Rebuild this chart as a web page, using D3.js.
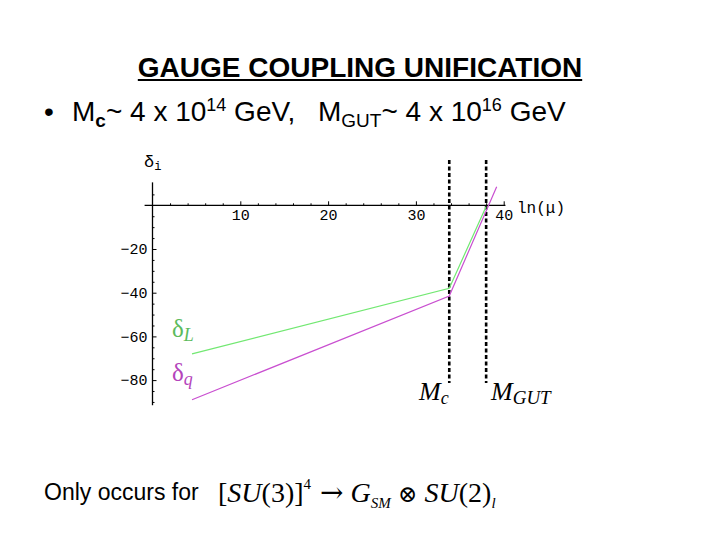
<!DOCTYPE html>
<html>
<head>
<meta charset="utf-8">
<script src="https://cdn.jsdelivr.net/npm/d3@7"></script>
<style>
  body { margin: 0; background: #fff; }
  svg text { fill: #000; white-space: pre; }
</style>
</head>
<body>
<div class="chart"></div>
<script>
// values
var xTicks = [10, 20, 30, 40];
var xMinor = [2, 4, 6, 8, 12, 14, 16, 18, 22, 24, 26, 28, 32, 34, 36, 38];
var yTicks = [-20, -40, -60, -80];
var yMinor = [5, -5, -10, -15, -25, -30, -35, -45, -50, -55, -65, -70, -75, -85, -90];
var lnMuL = [4.5, 33.8, 38.0];
var deltaL = [-68, -38, -0.5];
var lnMuQ = [4.5, 33.8, 39.2];
var deltaQ = [-89, -41.5, 8.5];
var thresholds = [33.8, 38.0];

var svgWidth = 720, svgHeight = 540;
var svg = d3.select(".chart").append("svg")
    .attr("width", svgWidth)
    .attr("height", svgHeight);

var sans = "Liberation Sans, Arial, sans-serif";
var serif = "Liberation Serif, Times New Roman, serif";
var monoFont = "Liberation Mono, Courier New, monospace";

// title
var title = svg.append("text")
    .attr("x", 360).attr("y", 77)
    .attr("text-anchor", "middle")
    .attr("font-family", sans)
    .attr("font-weight", "bold")
    .attr("font-size", 28)
    .text("GAUGE COUPLING UNIFICATION");
var tb = title.node().getBBox();
svg.append("line")
    .attr("x1", tb.x).attr("x2", tb.x + tb.width)
    .attr("y1", 80).attr("y2", 80)
    .attr("stroke", "#000").attr("stroke-width", 2);

// bullet line
svg.append("text")
    .attr("x", 44).attr("y", 121)
    .attr("font-family", sans).attr("font-size", 28)
    .text("\u2022");
var mc = svg.append("text")
    .attr("x", 72).attr("y", 121)
    .attr("font-family", sans).attr("font-size", 28);
mc.append("tspan").text("M");
mc.append("tspan").attr("font-size", 19).attr("font-weight", "bold").attr("dy", 6).text("c");
mc.append("tspan").attr("dy", -6).text("~ 4 x 10");
mc.append("tspan").attr("font-size", 18).attr("dy", -10).text("14");
mc.append("tspan").attr("dy", 10).text(" GeV,");
var mg = svg.append("text")
    .attr("x", 318).attr("y", 121)
    .attr("font-family", sans).attr("font-size", 28);
mg.append("tspan").text("M");
mg.append("tspan").attr("font-size", 19).attr("dy", 6).text("GUT");
mg.append("tspan").attr("dy", -6).text("~ 4 x 10");
mg.append("tspan").attr("font-size", 18).attr("dy", -10).text("16");
mg.append("tspan").attr("dy", 10).text(" GeV");

// chart scales
var x = d3.scaleLinear().domain([0, 40]).range([152.5, 503.7]);
var y = d3.scaleLinear().domain([0, -80]).range([205.3, 380.1]);

var chart = svg.append("g");

// x axis
chart.append("line")
    .attr("x1", x(-0.9)).attr("x2", x(40.2))
    .attr("y1", y(0)).attr("y2", y(0))
    .attr("stroke", "#000").attr("stroke-width", 1.3);
var xAxis = chart.append("g")
    .attr("transform", "translate(0," + y(0) + ")")
    .call(d3.axisBottom(x).tickValues(xTicks).tickSizeInner(-4).tickSizeOuter(0).tickPadding(4));
var xMin = chart.append("g")
    .attr("transform", "translate(0," + y(0) + ")")
    .call(d3.axisBottom(x).tickValues(xMinor).tickSizeInner(-2).tickSizeOuter(0).tickFormat(""));

// y axis
chart.append("line")
    .attr("x1", x(0)).attr("x2", x(0))
    .attr("y1", y(10.5)).attr("y2", y(-91.5))
    .attr("stroke", "#000").attr("stroke-width", 1.3);
var yAxis = chart.append("g")
    .attr("transform", "translate(" + x(0) + ",0)")
    .call(d3.axisLeft(y).tickValues(yTicks).tickSizeInner(-4).tickSizeOuter(0).tickPadding(5)
        .tickFormat(function(d) { return "\u2212" + Math.abs(d); }));
var yMin = chart.append("g")
    .attr("transform", "translate(" + x(0) + ",0)")
    .call(d3.axisLeft(y).tickValues(yMinor).tickSizeInner(-2).tickSizeOuter(0).tickFormat(""));

[xAxis, xMin, yAxis, yMin].forEach(function(a) {
    a.select(".domain").remove();
    a.selectAll("line").attr("stroke", "#000").attr("stroke-width", 1);
    a.selectAll("text").attr("font-family", monoFont).attr("font-size", 15).attr("fill", "#000");
});

// axis names
chart.append("text")
    .attr("x", 144).attr("y", 167)
    .attr("font-family", monoFont).attr("font-size", 17)
    .html("&#948;<tspan font-size='12' dy='3'>i</tspan>");
chart.append("text")
    .attr("x", 517).attr("y", 213)
    .attr("font-family", monoFont).attr("font-size", 16)
    .text("ln(\u03bc)");

// threshold dashed lines
chart.selectAll(".thr")
    .data(thresholds)
    .enter()
    .append("line")
    .attr("class", "thr")
    .attr("x1", function(d) { return x(d); })
    .attr("x2", function(d) { return x(d); })
    .attr("y1", 160).attr("y2", 383)
    .attr("stroke", "#000")
    .attr("stroke-width", 2.6)
    .attr("stroke-dasharray", "4,2.5");

// running couplings
var line = d3.line()
    .x(function(d) { return x(d[0]); })
    .y(function(d) { return y(d[1]); });
chart.append("path")
    .datum(d3.zip(lnMuL, deltaL))
    .attr("d", line)
    .attr("fill", "none")
    .attr("stroke", "#72e872")
    .attr("stroke-width", 1.2);
chart.append("path")
    .datum(d3.zip(lnMuQ, deltaQ))
    .attr("d", line)
    .attr("fill", "none")
    .attr("stroke", "#c94fd0")
    .attr("stroke-width", 1.2);

// curve labels
var lblL = chart.append("text")
    .attr("x", 172).attr("y", 337)
    .attr("font-family", serif).attr("font-size", 25)
    .style("fill", "#5cbb5c");
lblL.append("tspan").text("\u03b4");
lblL.append("tspan").attr("font-style", "italic").attr("font-size", 18).attr("dy", 4).text("L");
var lblQ = chart.append("text")
    .attr("x", 172).attr("y", 381)
    .attr("font-family", serif).attr("font-size", 25)
    .style("fill", "#b444bb");
lblQ.append("tspan").text("\u03b4");
lblQ.append("tspan").attr("font-style", "italic").attr("font-size", 18).attr("dy", 4).text("q");

// threshold labels
var lblMc = chart.append("text")
    .attr("x", 419).attr("y", 400)
    .attr("font-family", serif).attr("font-size", 26).attr("font-style", "italic");
lblMc.append("tspan").text("M");
lblMc.append("tspan").attr("font-size", 18).attr("dy", 4).text("c");
var lblMg = chart.append("text")
    .attr("x", 491).attr("y", 400)
    .attr("font-family", serif).attr("font-size", 26).attr("font-style", "italic");
lblMg.append("tspan").text("M");
lblMg.append("tspan").attr("font-size", 19).attr("dy", 4).text("GUT");

// footer
svg.append("text")
    .attr("x", 44).attr("y", 500)
    .attr("font-family", sans)
    .attr("font-size", 23)
    .text("Only occurs for");
var formula = svg.append("text")
    .attr("x", 218).attr("y", 502)
    .attr("font-family", serif).attr("font-size", 28);
formula.append("tspan").text("[");
formula.append("tspan").attr("font-style", "italic").text("SU");
formula.append("tspan").text("(3)]");
formula.append("tspan").attr("font-size", 15).attr("dy", -13).text("4");
formula.append("tspan").attr("dy", 13).attr("font-family", "DejaVu Serif").attr("font-size", 28).text(" \u2192");
formula.append("tspan").text(" ");
formula.append("tspan").attr("font-style", "italic").text("G");
formula.append("tspan").attr("font-style", "italic").attr("font-size", 15).attr("dy", 6).text("SM");
formula.append("tspan").attr("dy", -6).attr("font-family", "DejaVu Serif").attr("font-size", 23).text(" \u2297 ");
formula.append("tspan").attr("font-style", "italic").text("SU");
formula.append("tspan").text("(2)");
formula.append("tspan").attr("font-style", "italic").attr("font-size", 15).attr("dy", 6).text("l");
</script>
</body>
</html>
